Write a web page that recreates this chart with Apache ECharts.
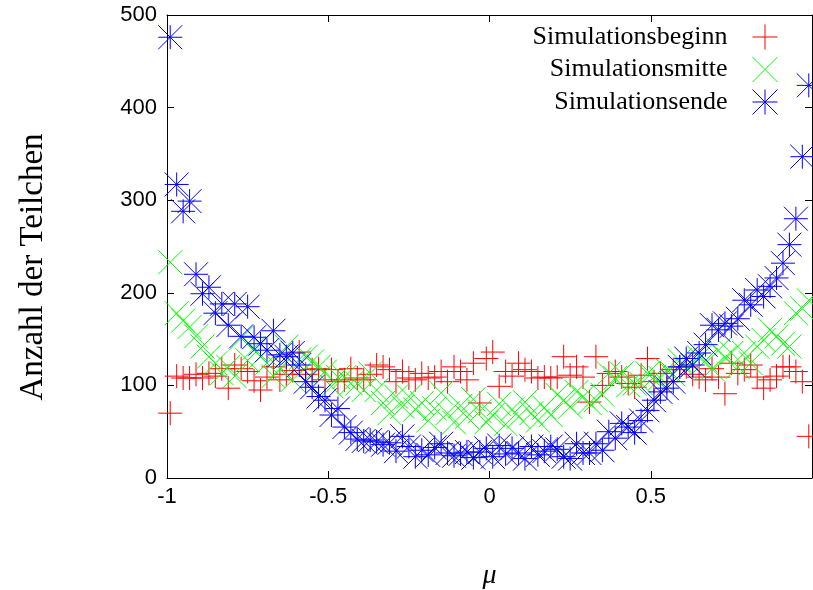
<!DOCTYPE html>
<html>
<head>
<meta charset="utf-8">
<script src="https://cdn.jsdelivr.net/npm/echarts@6/dist/echarts.min.js"></script>
<style>
  html, body { margin: 0; padding: 0; background: #fff; }
  #chart { width: 813px; height: 590px; }
</style>
</head>
<body>
<div id="chart"></div>
<script>
// Bin centres of mu (cosine of the angle), bin width 0.02
const mu = [
  -0.99, -0.97, -0.95, -0.93, -0.91, -0.89, -0.87, -0.85, -0.83, -0.81,
  -0.79, -0.77, -0.75, -0.73, -0.71, -0.69, -0.67, -0.65, -0.63, -0.61,
  -0.59, -0.57, -0.55, -0.53, -0.51, -0.49, -0.47, -0.45, -0.43, -0.41,
  -0.39, -0.37, -0.35, -0.33, -0.31, -0.29, -0.27, -0.25, -0.23, -0.21,
  -0.19, -0.17, -0.15, -0.13, -0.11, -0.09, -0.07, -0.05, -0.03, -0.01,
   0.01,  0.03,  0.05,  0.07,  0.09,  0.11,  0.13,  0.15,  0.17,  0.19,
   0.21,  0.23,  0.25,  0.27,  0.29,  0.31,  0.33,  0.35,  0.37,  0.39,
   0.41,  0.43,  0.45,  0.47,  0.49,  0.51,  0.53,  0.55,  0.57,  0.59,
   0.61,  0.63,  0.65,  0.67,  0.69,  0.71,  0.73,  0.75,  0.77,  0.79,
   0.81,  0.83,  0.85,  0.87,  0.89,  0.91,  0.93,  0.95,  0.97,  0.99
];

// Particle counts per bin at the start of the simulation
const beginn = [
   70, 110, 108, 108, 112, 108, 113, 110, 118,  97,
  122, 118, 115, 105,  95, 109, 120, 106, 112, 116,
  136, 112, 117, 118, 106, 117, 104, 106, 118, 108,
  106, 112, 122, 120, 117, 104, 115, 108, 106, 113,
  108, 109, 115, 104, 120, 115, 106, 124,  81, 129,
  136,  99, 115, 110, 124, 117, 115, 108, 109, 108,
  109, 131, 111, 120, 109,  82, 131, 100, 113, 115,
  109, 102,  98, 111, 129, 104, 113, 104, 117, 120,
  120, 112, 109, 106, 118, 109,  91, 124, 113, 117,
  122, 109,  97, 106, 110, 120, 120, 115, 104,  45
];

// Particle counts per bin halfway through
const mitte = [
  233, 178, 170, 163, 153, 142, 131, 124, 113, 120,
  110, 151, 127, 140, 131, 124, 110, 118, 142, 106,
  128, 131, 126, 120, 115,  99, 109, 109, 102, 102,
   95, 113,  95,  81,  70,  88,  77,  88,  74,  81,
   62,  75,  92,  70,  60,  78,  66,  85,  72,  60,
   68,  80,  58,  74,  66,  82,  70,  62,  76,  68,
   90,  84,  77,  93,  88,  81,  84,  90, 113, 108,
  113, 100, 102, 102, 113, 109, 108, 117, 112, 127,
  118, 122, 130, 127, 118, 138, 130, 135, 120, 135,
  124, 142, 149, 160, 153, 145, 142, 178, 183, 192
];

// Particle counts per bin at the end
const ende = [
  476, 317, 288, 299, 220, 199, 206, 178, 188, 165,
  188, 153, 185, 152, 145, 138, 159, 133, 131, 135,
  122, 104,  98,  88,  84,  68,  75,  55,  49,  42,
   40,  41,  39,  36,  38,  29,  45,  34,  23,  30,
   25,  33,  37,  27,  24,  26,  28,  22,  28,  32,
   23,  35,  26,  32,  27,  21,  34,  25,  29,  34,
   31,  23,  21,  37,  27,  27,  37,  30,  50,  43,
   59,  55,  49,  62,  73,  84,  93,  97, 104, 120,
  129, 122, 135, 144, 165, 160, 167, 164, 172, 192,
  187, 203, 196, 207, 216, 232, 252, 280, 347, 424
];

const seriesNames = ['Simulationsbeginn', 'Simulationsmitte', 'Simulationsende'];
const seriesColors = ['#ff0000', '#00ff00', '#0000ff'];

// Point shapes: plus, cross and asterisk drawn as strokes
const PLUS = 'path://M0,12L24,12M12,0L12,24';
const CROSS = 'path://M0,0L24,24M24,0L0,24';
const STAR = 'path://M0,12L24,12M12,0L12,24M0,0L24,24M24,0L0,24';
const shapes = [PLUS, CROSS, STAR];
const values = [beginn, mitte, ende];

const tickFont = { fontFamily: 'Liberation Sans', fontSize: 22, color: '#000' };

function pairs(ys) {
  return mu.map((x, i) => [x, ys[i]]);
}

const chart = echarts.init(document.getElementById('chart'), null, { renderer: 'canvas' });

const axisLine = { show: true, onZero: false, lineStyle: { color: '#000', width: 1 } };
const axisTick = { show: true, inside: true, length: 7, lineStyle: { color: '#000', width: 1 } };

chart.setOption({
  animation: false,
  backgroundColor: '#fff',
  grid: { left: 167, right: 1, top: 15, bottom: 112, containLabel: false, outerBoundsMode: 'none' },
  xAxis: [
    {
      type: 'value', min: -1, max: 1, interval: 0.5, position: 'bottom',
      axisLine, axisTick, splitLine: { show: false },
      axisLabel: Object.assign({
        margin: 8,
        // the last label sits at the right edge of the page and is mostly cut off
        formatter: v => (v === 1 ? '{edge|1}' : String(v)),
        rich: { edge: Object.assign({ padding: [0, 0, 0, 12] }, tickFont) }
      }, tickFont),
      name: 'μ', nameLocation: 'middle', nameGap: 84,
      nameTextStyle: { fontFamily: 'Liberation Serif', fontStyle: 'italic', fontSize: 28, color: '#000' }
    },
    {
      type: 'value', min: -1, max: 1, interval: 0.5, position: 'top',
      axisLine, axisTick, splitLine: { show: false }, axisLabel: { show: false }
    }
  ],
  yAxis: [
    {
      type: 'value', min: 0, max: 500, interval: 100, position: 'left',
      axisLine, axisTick, splitLine: { show: false },
      axisLabel: Object.assign({ margin: 10 }, tickFont)
    },
    {
      type: 'value', min: 0, max: 500, interval: 100, position: 'right',
      axisLine, axisTick, splitLine: { show: false }, axisLabel: { show: false }
    }
  ],
  graphic: [
    {
      type: 'text', x: 50, y: 267, rotation: Math.PI / 2,
      style: {
        text: 'Anzahl der Teilchen', fill: '#000',
        font: '33px "Liberation Serif"', align: 'center', verticalAlign: 'bottom'
      }
    }
  ],
  legend: {
    orient: 'vertical', align: 'right', right: 30, top: 19,
    itemWidth: 25, itemHeight: 25, itemGap: 6.5,
    textStyle: { fontFamily: 'Liberation Serif', fontSize: 26, color: '#000', padding: [0, 20, 0, 0] },
    data: seriesNames.map((name, i) => ({
      name, icon: shapes[i],
      itemStyle: { color: 'transparent', borderColor: seriesColors[i], borderWidth: 1 }
    }))
  },
  series: seriesNames.map((name, i) => ({
    name, type: 'scatter', xAxisIndex: 0, yAxisIndex: 0,
    symbol: shapes[i], symbolSize: 24,
    itemStyle: { color: 'transparent', borderColor: seriesColors[i], borderWidth: 1, opacity: 1 },
    emphasis: { disabled: true },
    data: pairs(values[i])
  }))
});
</script>
</body>
</html>
